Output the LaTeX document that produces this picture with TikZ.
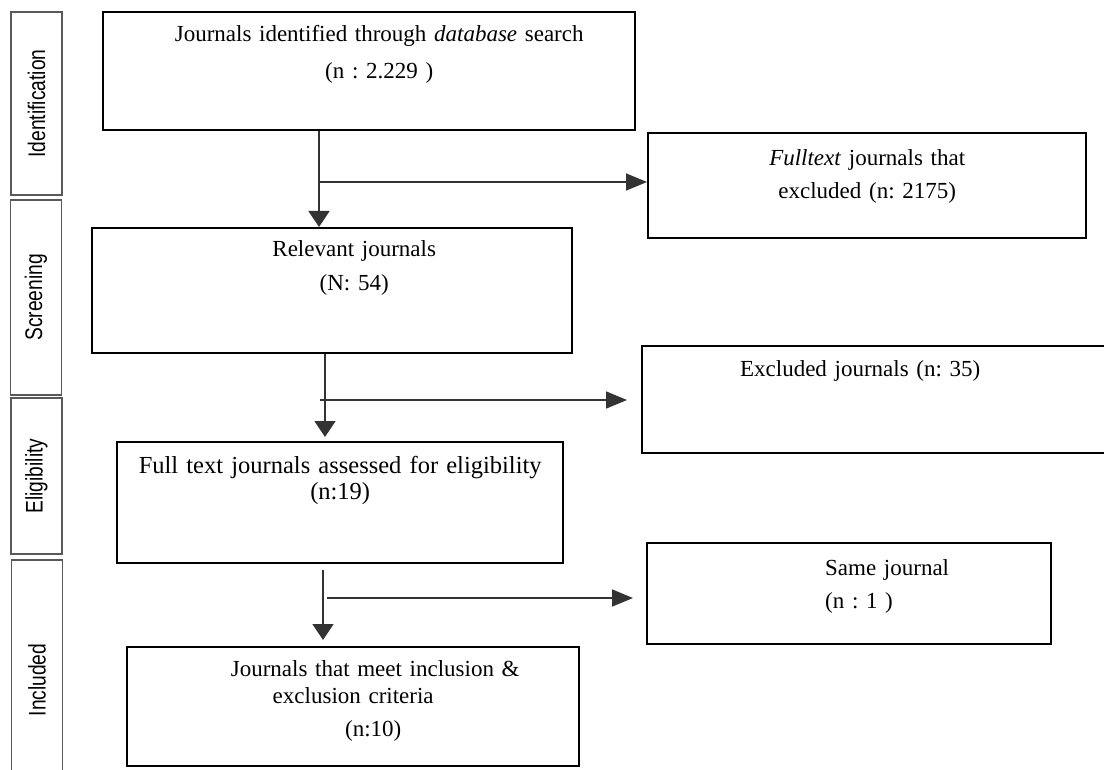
\documentclass[tikz,border=0pt]{standalone}
\usepackage{fontspec}
\setmainfont{Liberation Serif}
\newfontfamily\sidefont[FakeStretch=0.8]{Liberation Sans}
\usetikzlibrary{arrows.meta}
\frenchspacing

\begin{document}
\begin{tikzpicture}[x=1pt,y=-1pt,
    box/.style={draw,line width=2.4pt,anchor=north west,inner sep=0pt,align=center,font=\fontsize{23}{27}\selectfont},
    phase/.style={draw=black!65,line width=1.3pt,fill=white,rotate=90,minimum height=51pt,inner sep=0pt,font=\sidefont\fontsize{24}{26}\selectfont},
    conn/.style={draw=black!80,line width=1.6pt},
    arrdown/.style={-{Triangle[length=16pt,width=21pt]}},
    arrside/.style={-{Triangle[length=21pt,width=17pt]}}]
    \useasboundingbox (0,0) rectangle (1104,770);
    \clip (0,0) rectangle (1104,770);

    %phases
    \node[phase,minimum width=183pt] (identif) at (36.5,103.5) {Identification};
    \node[phase,minimum width=195pt] (screen) at (36,297.5) {Screening};
    \node[phase,minimum width=156pt] (eligib) at (36.5,476) {Eligibility};
    \node[phase,minimum width=240pt] (incl) at (37,680) {Included};

    %left column
    \node[box,text width=532pt,text height=29pt,text depth=89pt] (ident) at (102,11)
        {\hspace*{20pt}Journals identified through \textit{database} search\\[10pt]\hspace*{20pt}(n : 2.229 )};
    \node[box,text width=480pt,text height=28pt,text depth=97pt] (relevant) at (91,227)
        {\hspace*{44pt}Relevant journals\\[7pt]\hspace*{44pt}(N: 54)};
    \node[box,text width=446pt,text height=31pt,text depth=90pt,font=\fontsize{24.5}{26}\selectfont] (elig) at (116,441)
        {Full text journals assessed for eligibility\\(n:19)};
    \node[box,text width=452pt,text height=29pt,text depth=90pt] (final) at (126,646)
        {\hspace*{44pt}Journals that meet inclusion \&\\exclusion criteria\\[6pt]\hspace*{40pt}(n:10)};

    %right column
    \node[box,text width=438pt,text height=32pt,text depth=73pt] (fulltext) at (647,132)
        {\textit{Fulltext} journals that\\[6pt]excluded (n: 2175)};
    \node[box,text width=479pt,text height=30pt,text depth=77pt] (excluded) at (641,345)
        {\hspace*{-43pt}Excluded journals (n: 35)};
    \node[box,align=left,text width=404pt,text height=32pt,text depth=69pt] (same) at (646,542)
        {\hspace*{178pt}Same journal\\[6pt]\hspace*{178pt}(n : 1 )};

    %arrows
    \coordinate (j1) at (319,182);
    \draw[conn,arrdown] (j1 |- ident.south) -- (j1 |- relevant.north);
    \draw[conn,arrside] (j1) -- (j1 -| fulltext.west);

    \coordinate (v2) at (325,400);
    \coordinate (j2) at (320,400);
    \draw[conn,arrdown,shorten >=4pt] (v2 |- relevant.south) -- (v2 |- elig.north);
    \draw[conn,arrside,shorten >=14pt] (j2) -- (j2 -| excluded.west);

    \coordinate (v3) at (323,598);
    \coordinate (j3) at (327,598);
    \draw[conn,arrdown,shorten <=6pt,shorten >=6pt] (v3 |- elig.south) -- (v3 |- final.north);
    \draw[conn,arrside,shorten >=13pt] (j3) -- (j3 -| same.west);

\end{tikzpicture}
\end{document}
